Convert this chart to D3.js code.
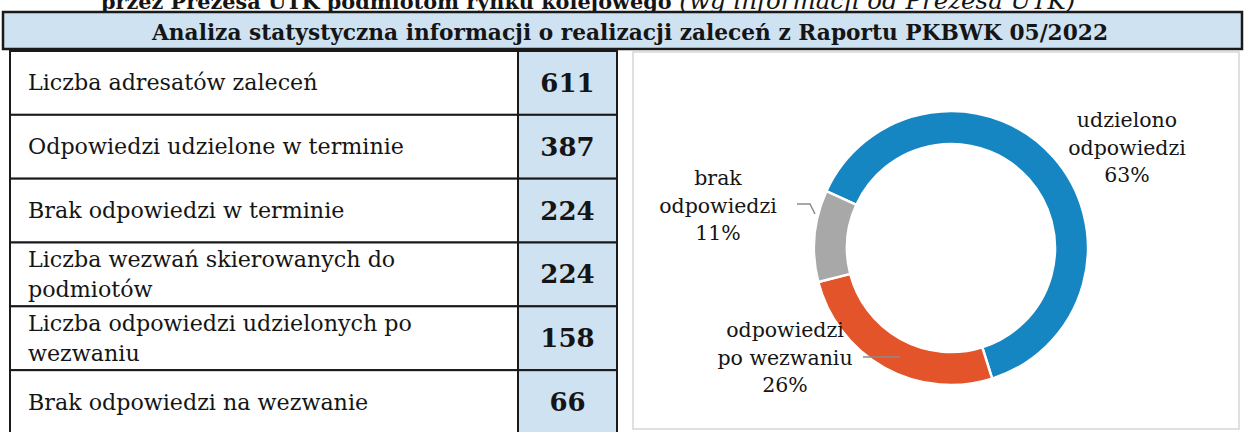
<!DOCTYPE html>
<html>
<head>
<meta charset="utf-8">
<script src="https://cdn.jsdelivr.net/npm/d3@7"></script>
<style>
  body { margin: 0; background: #fff; }
  svg { display: block; }
  text { font-family: "DejaVu Serif", "Liberation Serif", serif; fill: #151515; }
</style>
</head>
<body>
<svg id="chart"></svg>
<script>
// table data
const rowLabels = [
    ["Liczba adresatów zaleceń"],
    ["Odpowiedzi udzielone w terminie"],
    ["Brak odpowiedzi w terminie"],
    ["Liczba wezwań skierowanych do", "podmiotów"],
    ["Liczba odpowiedzi udzielonych po", "wezwaniu"],
    ["Brak odpowiedzi na wezwanie"]
];
const rowValues = [611, 387, 224, 224, 158, 66];

// donut data (clockwise order)
const sliceNames = [["udzielono", "odpowiedzi"], ["odpowiedzi", "po wezwaniu"], ["brak", "odpowiedzi"]];
const sliceValues = [387, 158, 66];
const slicePct = ["63%", "26%", "11%"];
const sliceColors = ["#1686c2", "#e3542a", "#a8a8a8"];

const titleBold = "przez Prezesa UTK podmiotom rynku kolejowego";
const titleItalic = " (wg informacji od Prezesa UTK)";
const header = "Analiza statystyczna informacji o realizacji zaleceń z Raportu PKBWK 05/2022";

const width = 1246;
const height = 432;
const blue = "#cfe2f1";
const ink = "#1a1a1a";

const svg = d3.select("#chart")
    .attr("width", width)
    .attr("height", height);

// cut-off title at the very top
const title = svg.append("text")
    .attr("x", 101)
    .attr("y", 9)
    .attr("text-decoration", "underline");
title.append("tspan").attr("font-weight", "bold").attr("font-size", 20.8).text(titleBold);
title.append("tspan").attr("font-style", "italic").attr("font-size", 24.5).text(titleItalic);

// header bar
svg.append("rect")
    .attr("x", 3).attr("y", 12)
    .attr("width", 1239).attr("height", 37)
    .attr("fill", blue)
    .attr("stroke", ink)
    .attr("stroke-width", 2.5);

svg.append("text")
    .attr("x", 630)
    .attr("y", 39.5)
    .attr("text-anchor", "middle")
    .attr("font-weight", "bold")
    .attr("font-size", 21.7)
    .text(header);

// table
const y = d3.scaleBand()
    .domain(d3.range(rowValues.length))
    .range([51, 434]);

const tableLeft = 10, valLeft = 518, valRight = 617;

const rows = svg.append("g").attr("class", "rows")
    .selectAll("g")
    .data(rowValues)
    .enter()
    .append("g");

rows.append("rect")
    .attr("x", tableLeft)
    .attr("y", (d, i) => y(i))
    .attr("width", valLeft - tableLeft)
    .attr("height", y.bandwidth())
    .attr("fill", "#fff")
    .attr("stroke", ink)
    .attr("stroke-width", 2);

rows.append("rect")
    .attr("x", valLeft)
    .attr("y", (d, i) => y(i))
    .attr("width", valRight - valLeft)
    .attr("height", y.bandwidth())
    .attr("fill", blue)
    .attr("stroke", ink)
    .attr("stroke-width", 2);

rows.append("text")
    .attr("x", 28)
    .attr("font-size", 22.2)
    .each(function(d, i) {
        const lines = rowLabels[i];
        const mid = y(i) + y.bandwidth() / 2;
        const lh = 29.5;
        d3.select(this).selectAll("tspan")
            .data(lines)
            .enter()
            .append("tspan")
            .attr("x", 28)
            .attr("y", (l, k) => mid + (k - (lines.length - 1) / 2) * lh + 7.5)
            .text(l => l);
    });

rows.append("text")
    .attr("x", (valLeft + valRight) / 2)
    .attr("y", (d, i) => y(i) + y.bandwidth() / 2 + 9)
    .attr("text-anchor", "middle")
    .attr("font-weight", "bold")
    .attr("font-size", 26)
    .text(d => d);

// chart panel
svg.append("rect")
    .attr("x", 633).attr("y", 52)
    .attr("width", 606).attr("height", 377)
    .attr("fill", "#fff")
    .attr("stroke", "#d6d6d6")
    .attr("stroke-width", 1.5);

const cx = 951, cy = 248;
const outerR = 137, innerR = 104;
const start = 294.5 * Math.PI / 180;

const pie = d3.pie()
    .sort(null)
    .startAngle(start)
    .endAngle(start + 2 * Math.PI);

const arc = d3.arc()
    .innerRadius(innerR)
    .outerRadius(outerR);

const donut = svg.append("g")
    .attr("transform", `translate(${cx},${cy})`);

donut.selectAll("path")
    .data(pie(sliceValues))
    .enter()
    .append("path")
    .attr("d", arc)
    .attr("fill", (d, i) => sliceColors[i])
    .attr("stroke", "#fff")
    .attr("stroke-width", 2.5);

// label placement relative to donut centre (manually moved labels)
const labelOffsets = [[176, -128], [-166, 82], [-233, -70]];
const lineH = 27.5;

const labels = donut.selectAll("text.lbl")
    .data(sliceValues)
    .enter()
    .append("text")
    .attr("class", "lbl")
    .attr("text-anchor", "middle")
    .attr("font-size", 20.5);

labels.each(function(d, i) {
    const lines = sliceNames[i].concat([slicePct[i]]);
    d3.select(this).selectAll("tspan")
        .data(lines)
        .enter()
        .append("tspan")
        .attr("x", labelOffsets[i][0])
        .attr("y", (l, k) => labelOffsets[i][1] + k * lineH + 7)
        .text(l => l);
});

// leader lines
const leaders = [
    null,
    [[-88, 109], [-51, 109]],
    [[-154, -44], [-141, -44], [-136, -34]]
];
donut.selectAll("path.leader")
    .data(leaders.filter(l => l))
    .enter()
    .append("path")
    .attr("class", "leader")
    .attr("d", d3.line())
    .attr("fill", "none")
    .attr("stroke", "#8a8a8a")
    .attr("stroke-width", 1.5);
</script>
</body>
</html>
